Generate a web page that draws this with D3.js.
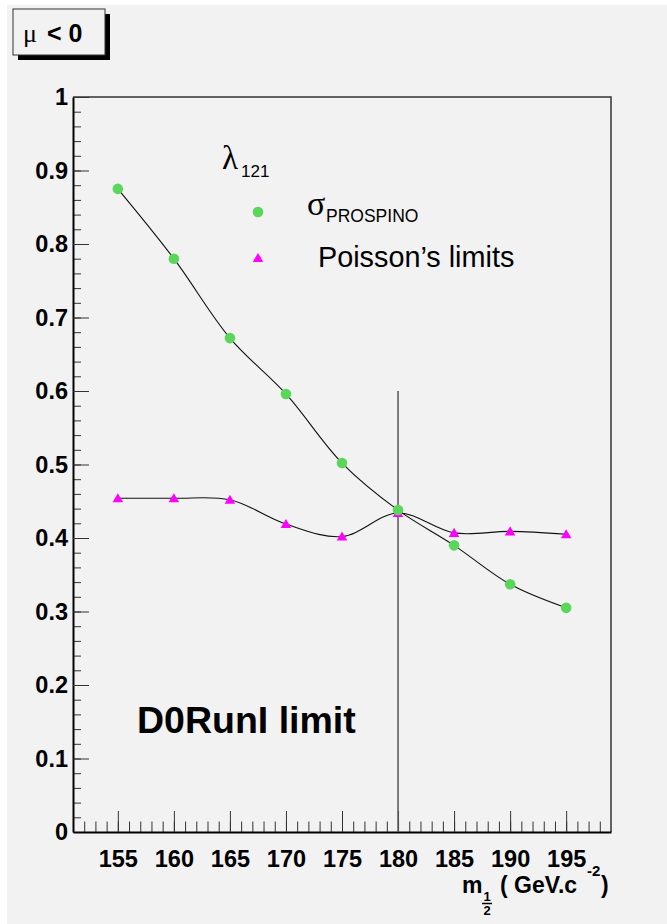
<!DOCTYPE html>
<html>
<head>
<meta charset="utf-8">
<script src="https://cdn.jsdelivr.net/npm/d3@7"></script>
<style>
  body { margin: 0; background: #fff; }
  text { font-family: "Liberation Sans", Arial, sans-serif; }
  .greek { font-family: "Liberation Serif", "DejaVu Serif", serif; }
</style>
</head>
<body>
<div id="plot-area"></div>
<script>
// m_1/2 scan: PROSPINO cross section vs Poisson limits

const masses = [155, 160, 165, 170, 175, 180, 185, 190, 195];
const sigmaProspino = [0.875, 0.780, 0.672, 0.596, 0.502, 0.438, 0.390, 0.337, 0.305];
const poissonLimits = [0.454, 0.454, 0.452, 0.419, 0.402, 0.434, 0.407, 0.409, 0.405];
const xTicks = [155, 160, 165, 170, 175, 180, 185, 190, 195];
const yTicks = [0, 0.1, 0.2, 0.3, 0.4, 0.5, 0.6, 0.7, 0.8, 0.9, 1];
const yTickLabels = ["0", "0.1", "0.2", "0.3", "0.4", "0.5", "0.6", "0.7", "0.8", "0.9", "1"];
const cutMass = 180, cutTop = 0.6;

const W = 667, H = 924;
const svg = d3.select("#plot-area").
append("svg").
attr("width", W).
attr("height", H);

// canvas background
svg.append("rect").
attr("x", 7).attr("y", 5).
attr("width", W - 7).attr("height", H - 5).
attr("fill", "#f2f2f2");

// frame, clockwise from top
const pT = 97, pR = 611, pB = 832, pL = 73;

const x = d3.scaleLinear().domain([151, 199]).range([pL, pR]);
const y = d3.scaleLinear().domain([0, 1]).range([pB, pT]);

// top and right frame lines
svg.append("path").
attr("d", `M${pL},${pT}H${pR}V${pB}`).
attr("fill", "none").
attr("stroke", "#333").
attr("stroke-width", 1.5);

// minor ticks
svg.append("g").
attr("transform", `translate(${pL} 0)`).
call(d3.axisLeft(y).tickValues(d3.range(0, 1.001, 0.02)).tickSize(-8).tickSizeOuter(0).tickFormat("")).
call(g => g.select(".domain").remove()).
call(g => g.selectAll("line").attr("stroke", "#333"));

svg.append("g").
attr("transform", `translate(0 ${pB})`).
call(d3.axisBottom(x).tickValues(d3.range(152, 199, 1)).tickSize(-10.5).tickSizeOuter(0).tickFormat("")).
call(g => g.select(".domain").remove()).
call(g => g.selectAll("line").attr("stroke", "#333"));

// major axes
const yAxis = d3.axisLeft(y).
tickValues(yTicks).
tickSize(-16).
tickSizeOuter(0).
tickPadding(5).
tickFormat((d, i) => yTickLabels[i]);

svg.append("g").
attr("id", "y-axis").
attr("transform", `translate(${pL} 0)`).
call(yAxis).
call(g => g.select(".domain").attr("stroke", "#000").attr("stroke-width", 2)).
call(g => g.selectAll(".tick line").attr("stroke", "#333")).
call(g => g.selectAll("text").
attr("font-family", "Liberation Sans, Arial, sans-serif").
attr("font-size", 23.5).attr("font-weight", "bold").attr("fill", "#000"));

const xAxis = d3.axisBottom(x).
tickValues(xTicks).
tickSize(-21).
tickSizeOuter(0).
tickPadding(18).
tickFormat(d3.format("d"));

svg.append("g").
attr("id", "x-axis").
attr("transform", `translate(0 ${pB})`).
call(xAxis).
call(g => g.select(".domain").attr("stroke", "#000").attr("stroke-width", 2)).
call(g => g.selectAll(".tick line").attr("stroke", "#333")).
call(g => g.selectAll("text").
attr("font-family", "Liberation Sans, Arial, sans-serif").
attr("font-size", 23.5).attr("font-weight", "bold").attr("fill", "#000"));

// x-axis title: m_{1/2} ( GeV.c^{-2} )
const xt = svg.append("g").attr("font-weight", "bold").attr("fill", "#000");
xt.append("text").attr("x", 462).attr("y", 893).attr("font-size", 23).text("m");
xt.append("text").attr("x", 487).attr("y", 901).attr("font-size", 13).attr("text-anchor", "middle").text("1");
xt.append("line").attr("x1", 482).attr("x2", 492).attr("y1", 903.5).attr("y2", 903.5).
attr("stroke", "#000").attr("stroke-width", 1.5);
xt.append("text").attr("x", 487).attr("y", 915).attr("font-size", 13).attr("text-anchor", "middle").text("2");
xt.append("text").attr("x", 500).attr("y", 893).attr("font-size", 23).text("( GeV.c");
xt.append("text").attr("x", 587).attr("y", 876).attr("font-size", 15).text("-2");
xt.append("text").attr("x", 601).attr("y", 893).attr("font-size", 23).text(")");

// exclusion line at m = 180
svg.append("line").
attr("x1", x(cutMass)).attr("x2", x(cutMass)).
attr("y1", y(0)).attr("y2", y(cutTop)).
attr("stroke", "#555").
attr("stroke-width", 1.5);

// smooth curves
const line = d3.line().
x((d, i) => x(masses[i])).
y(d => y(d)).
curve(d3.curveCatmullRom.alpha(0.5));

[sigmaProspino, poissonLimits].forEach(series => {
  svg.append("path").
  attr("d", line(series)).
  attr("fill", "none").
  attr("stroke", "#111").
  attr("stroke-width", 1.1);
});

const green = "#5ad75a", magenta = "#ff00ff";
const tri = d3.symbol().type(d3.symbolTriangle).size(48);

svg.selectAll(".tri").
data(poissonLimits).
enter().
append("path").
attr("class", "tri").
attr("d", tri).
attr("transform", (d, i) => `translate(${x(masses[i])} ${y(d) + 1})`).
attr("fill", magenta);

svg.selectAll(".dot").
data(sigmaProspino).
enter().
append("circle").
attr("class", "dot").
attr("cx", (d, i) => x(masses[i])).
attr("cy", d => y(d)).
attr("r", 5.3).
attr("fill", green);

// legend
const legend = svg.append("g").attr("fill", "#000");
legend.append("text").attr("class", "greek").attr("x", 222).attr("y", 169).attr("font-size", 33).text("λ");
legend.append("text").attr("x", 241).attr("y", 177).attr("font-size", 17).text("121");
legend.append("circle").attr("cx", 258).attr("cy", 212).attr("r", 5.3).attr("fill", green);
legend.append("text").attr("class", "greek").attr("x", 307).attr("y", 215).attr("font-size", 34).text("σ");
legend.append("text").attr("x", 326).attr("y", 222).attr("font-size", 17.5).text("PROSPINO");
legend.append("path").attr("d", tri).attr("transform", "translate(258 259)").attr("fill", magenta);
legend.append("text").attr("x", 318).attr("y", 267).attr("font-size", 28.8).text("Poisson’s limits");

// annotation
svg.append("text").
attr("x", 137).attr("y", 733).
attr("font-size", 37.5).attr("font-weight", "bold").
text("D0RunI limit");

// title box "μ < 0" with shadow
svg.append("rect").attr("x", 18).attr("y", 14).attr("width", 92).attr("height", 46).attr("fill", "#000");
svg.append("rect").attr("x", 13).attr("y", 9).attr("width", 92).attr("height", 46).
attr("fill", "#f2f2f2").attr("stroke", "#333").attr("stroke-width", 1);
const tb = svg.append("text").attr("y", 42).attr("font-size", 26);
tb.append("tspan").attr("x", 23).attr("font-family", "Liberation Serif, serif").text("μ");
tb.append("tspan").attr("x", 47).attr("font-size", 25).attr("font-weight", "bold").text("< 0");
</script>
</body>
</html>
